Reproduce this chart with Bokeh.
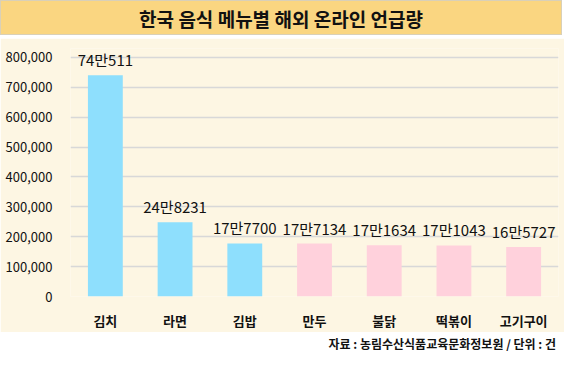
from bokeh.plotting import figure
from bokeh.models import ColumnDataSource, LabelSet, NumeralTickFormatter, Range1d, Div, FixedTicker
from bokeh.core.properties import value
from bokeh.layouts import column
from bokeh.embed import file_html
from bokeh.resources import INLINE

title_text = "한국 음식 메뉴별 해외 온라인 언급량"
source_text = "자료 : 농림수산식품교육문화정보원 / 단위 : 건"
categories = ["김치", "라면", "김밥", "만두", "불닭", "떡볶이", "고기구이"]
values = [740511, 248231, 177700, 177134, 171634, 171043, 165727]
colors = ["#8EDFFD", "#8EDFFD", "#8EDFFD", "#FFD1DC", "#FFD1DC", "#FFD1DC", "#FFD1DC"]
y_ticks = [0, 100000, 200000, 300000, 400000, 500000, 600000, 700000, 800000]

labels = [f"{v // 10000}만{v % 10000}" for v in values]

W = 564
FONT = "Noto Sans CJK KR"

title = Div(
    text=f'<div style="width:{W-2}px;height:35px;line-height:35px;background:#FAD681;'
         f'border:1px solid #D9D0B8;text-align:center;font-family:\'{FONT}\';'
         f'font-weight:bold;font-size:19px;color:#111;">{title_text}</div>',
    width=W, height=38, margin=(0, 0, 0, 0))

src = ColumnDataSource(dict(cat=categories, val=values, color=colors, label=labels))

p = figure(x_range=categories, width=W, height=294, output_backend="svg",
           toolbar_location=None, background_fill_color="#FDF6E3",
           border_fill_color="#FDF6E3", outline_line_color=None,
           min_border_left=70, min_border_right=6, min_border_top=10, min_border_bottom=34,
           margin=(0, 0, 0, 0))
p.y_range = Range1d(0, 830000)
p.vbar(x="cat", top="val", width=0.5, color="color", source=src, line_color=None)

p.add_layout(LabelSet(x="cat", y="val", text="label", source=src, text_align="center",
                      text_baseline="bottom", y_offset=5, text_font_size="15px",
                      text_font=value(FONT), text_color="#111"))

p.yaxis.ticker = FixedTicker(ticks=y_ticks)
p.yaxis.formatter = NumeralTickFormatter(format="0,0")
p.yaxis.axis_line_color = None
p.yaxis.major_tick_line_color = None
p.yaxis.minor_tick_line_color = None
p.yaxis.major_label_text_font = FONT
p.yaxis.major_label_text_font_size = "13px"
p.yaxis.major_label_text_color = "#111"
p.yaxis.major_label_standoff = 12

p.xaxis.axis_line_color = None
p.xaxis.major_tick_line_color = None
p.xaxis.major_label_text_font = FONT
p.xaxis.major_label_text_font_size = "13px"
p.xaxis.major_label_text_font_style = "bold"
p.xaxis.major_label_text_color = "#111"
p.xaxis.major_label_standoff = 8

p.xgrid.grid_line_color = None
p.ygrid.grid_line_color = "#D8D8D8"
p.ygrid.grid_line_width = 1.5

source_div = Div(
    text=f'<div style="width:{W-8}px;text-align:right;font-family:\'{FONT}\';'
         f'font-weight:bold;font-size:12px;color:#111;padding-top:3px;">{source_text}</div>',
    width=W, height=20, margin=(0, 0, 0, 0))

layout = column(title, p, source_div, spacing=0)
open("out.html", "w").write(file_html(layout, INLINE))
